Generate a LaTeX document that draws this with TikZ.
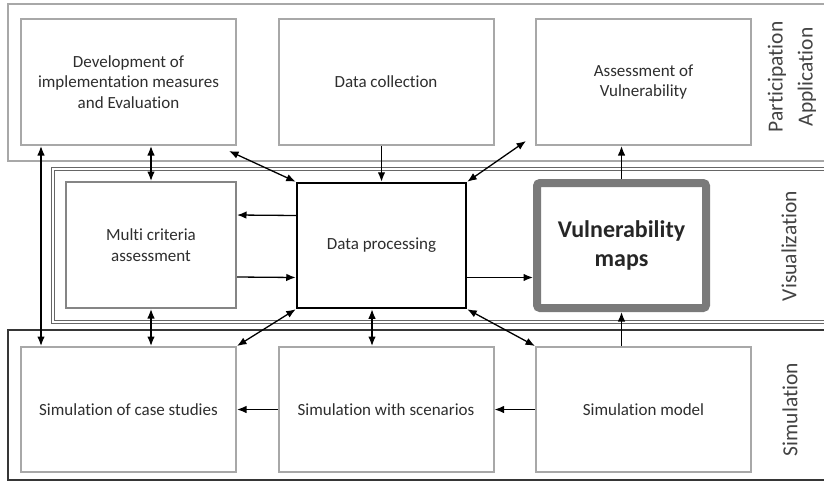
\documentclass[tikz,border=0pt]{standalone}
\usepackage{fontspec}
\setmainfont{Carlito}[Ligatures=NoCommon]
\usepackage{tikz}
\usetikzlibrary{arrows.meta}

\definecolor{boxgray}{HTML}{A8A8A8}
\definecolor{mcgray}{HTML}{858585}
\definecolor{mapgray}{HTML}{7A7A7A}
\definecolor{vizgray}{HTML}{666666}
\definecolor{simgray}{HTML}{363636}
\definecolor{txtgray}{HTML}{2E2E2E}

\tikzset{
    box/.style={draw=boxgray, line width=2, minimum width=215, minimum height=126, align=center, inner sep=0, text=txtgray, font=\fontsize{17}{20.5}\selectfont},
    side/.style={rotate=90, align=center, text=txtgray!90!white, font=\fontsize{21.5}{30}\selectfont},
    link/.style={line width=1.3, black}
}

\begin{document}
\begin{tikzpicture}[x=1pt, y=-1pt, >={Latex[length=9.5pt,width=7.5pt]}]
        \clip (0, 0) rectangle (824, 482);
        \fill[white] (0, 0) rectangle (824, 482);
        \draw[boxgray, line width=2.6] (8, 4) rectangle (840, 161);
        \draw[vizgray, line width=1.6, double=white, double distance=1.2] (53, 169) rectangle (840, 322);
        \draw[simgray, line width=2.6] (8, 330) rectangle (840, 480);

        \node[box] (P1) at (128.5, 82) {Development of\\implementation measures\\and Evaluation};
        \node[box] (P2) at (386, 82) {Data collection};
        \node[box] (P3) at (643.5, 82) {Assessment of\\Vulnerability};
        \node[box, draw=mcgray, minimum width=170] (V1) at (151, 245) {Multi criteria\\assessment};
        \node[box, draw=black, line width=2.5, minimum width=169, minimum height=125] (V2) at (381.5, 245.5) {Data processing};
        \node[box, draw=mapgray, line width=8, rounded corners=3, minimum width=169, minimum height=125, text=black!85, font=\fontsize{24}{29}\selectfont\bfseries] (V3) at (621.5, 245.5) {Vulnerability\\maps};
        \node[box, minimum height=125] (S1) at (128.5, 409.5) {Simulation of case studies};
        \node[box, minimum height=125] (S2) at (386, 409.5) {Simulation with scenarios};
        \node[box, minimum height=125] (S3) at (643.5, 409.5) {Simulation model};

        \node[side] (L1) at (792, 77) {Participation\\Application};
        \node[side] (L2) at (789, 246) {Visualization};
        \node[side] (L3) at (790, 409.5) {Simulation};

        \draw[link, <->] (P1.south -| V1.north) -- (V1.north);
        \draw[link, <->] ([shift={(-8,5)}]P1.south east) -- (V2.north west);
        \draw[link, ->] (V2.north |- P2.south) -- (V2.north);
        \draw[link, <->] (V2.north east) -- ([shift={(-9,-5)}]P3.south west);
        \draw[link, ->] (V3.north) -- (V3.north |- P3.south);
        \draw[link, ->] ([shift={(0,-30)}]V2.west) -- ([shift={(0,-30)}]V1.east);
        \draw[link, ->] ([shift={(0,32)}]V1.east) -- ([shift={(0,32)}]V2.west);
        \draw[link, ->] ([shift={(0,32)}]V2.east) -- ([shift={(0,32)}]V3.west);
        \draw[link, <->] ([shift={(21,0)}]P1.south west) -- ([shift={(21,0)}]S1.north west);
        \draw[link, <->] (V1.south) -- (V1.south |- S1.north);
        \draw[link, <->] (V2.south west) -- (S1.north east);
        \coordinate (C1) at ([shift={(-9.5,0)}]V2.south);
        \draw[link, <->] (C1) -- (C1 |- S2.north);
        \draw[link, <->] (V2.south east) -- (S3.north west);
        \draw[link, ->] (V3.south |- S3.north) -- (V3.south);
        \draw[link, ->] (S2.west) -- (S1.east);
        \draw[link, ->] (S3.west) -- (S2.east);
    \end{tikzpicture}
\end{document}
